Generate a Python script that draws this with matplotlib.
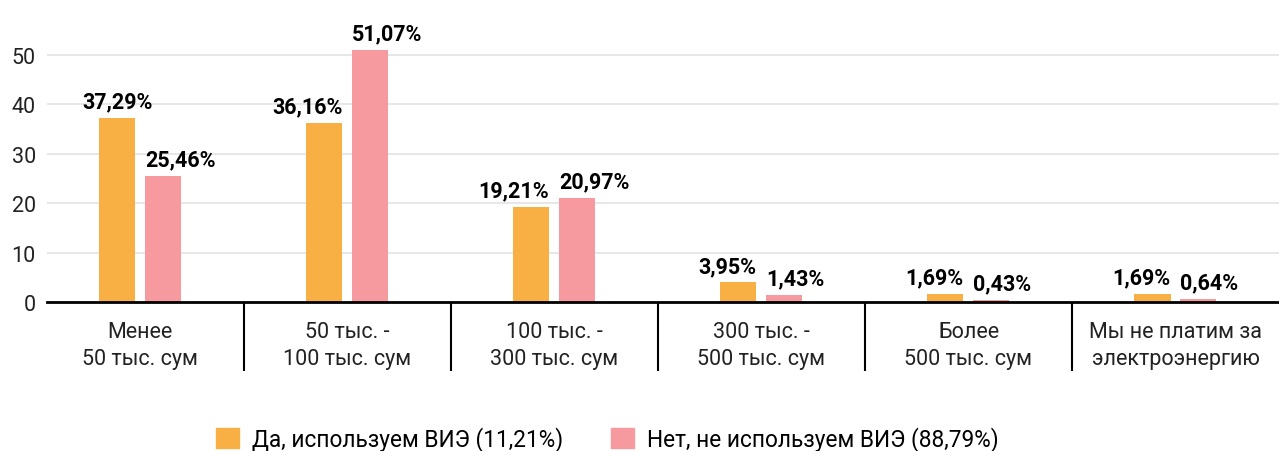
import numpy as np
import matplotlib
matplotlib.use("Agg")
import matplotlib.pyplot as plt
from matplotlib.patches import Patch

# ---------------- Data ----------------
categories = ["Менее\n50 тыс. сум", "50 тыс. -\n100 тыс. сум", "100 тыс. -\n300 тыс. сум",
              "300 тыс. -\n500 тыс. сум", "Более\n500 тыс. сум", "Мы не платим за\nэлектроэнергию"]
yes_vals = [37.29, 36.16, 19.21, 3.95, 1.69, 1.69]
no_vals = [25.46, 51.07, 20.97, 1.43, 0.43, 0.64]
series_names = ["Да, используем ВИЭ (11,21%)", "Нет, не используем ВИЭ (88,79%)"]
yticks = [0, 10, 20, 30, 40, 50]

# ---------------- Style ----------------
plt.rcParams['font.family'] = ['Roboto', 'DejaVu Sans']
c_yes = "#F8AF43"
c_no = "#F79AA0"
fs = 15.5

fig = plt.figure(figsize=(12.79, 4.52), dpi=100)
ax = fig.add_axes([47 / 1279, 149 / 452, 1 - 47 / 1279, 303 / 452])

x = np.arange(len(categories))
off = 0.111
w = 0.174
b1 = ax.bar(x - off, yes_vals, w, color=c_yes, zorder=3)
b2 = ax.bar(x + off, no_vals, w, color=c_no, zorder=3)

fmt = lambda v: f"{v:.2f}".replace(".", ",") + "%"
# orange labels hang to the left of their bar, pink ones to the right
for i, v in enumerate(yes_vals):
    if i == 0:
        xp, ha = x[i] - off, "center"
    else:
        xp, ha = x[i] - off + w / 2, "right"
    ax.annotate(fmt(v), (xp, v), xytext=(0, 4), textcoords="offset points",
                ha=ha, va="bottom", fontsize=fs, fontweight="bold")
for i, v in enumerate(no_vals):
    ax.annotate(fmt(v), (x[i] + off - w / 2, v), xytext=(0, 4), textcoords="offset points",
                ha="left", va="bottom", fontsize=fs, fontweight="bold")

ax.set_xlim(-0.45, 5.5)
ax.set_ylim(0, 61.3)
ax.set_yticks(yticks)
ax.set_yticklabels([str(t) for t in yticks], fontsize=fs, color="#222222")
ax.tick_params(axis="y", length=0, pad=8)
ax.grid(axis="y", color="#e3e3e3", linewidth=1.2, zorder=0)

ax.set_xticks(x)
ax.set_xticklabels(categories, fontsize=fs, color="#222222", linespacing=1.35)
ax.tick_params(axis="x", which="major", length=0, pad=14)
# separators between categories drawn as long minor ticks
ax.set_xticks(x[:-1] + 0.5, minor=True)
ax.tick_params(axis="x", which="minor", length=50, width=1.5, color="black", direction="out")

for s in ["left", "right", "top"]:
    ax.spines[s].set_visible(False)
ax.spines["bottom"].set_linewidth(2)
ax.spines["bottom"].set_zorder(4)

handles = [Patch(color=c_yes), Patch(color=c_no)]
fig.legend(handles, series_names, loc="center", bbox_to_anchor=(0.475, 0.027), ncol=2,
           frameon=False, fontsize=16.3, handlelength=1.0, handleheight=1.0,
           handletextpad=0.6, columnspacing=2.1)

fig.savefig("out.png", dpi=100)
